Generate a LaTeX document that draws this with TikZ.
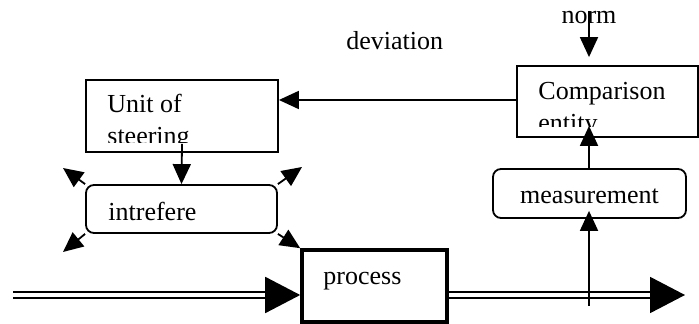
\documentclass[tikz,border=0pt]{standalone}
\usepackage{fontspec}
\setmainfont{Liberation Serif}
\usetikzlibrary{arrows.meta}

\begin{document}
\begin{tikzpicture}[
    x=0.5pt, y=-0.5pt,
    every node/.style={font=\fontsize{13pt}{16pt}\selectfont, inner sep=0pt},
    box/.style={draw, line width=0.9pt},
    round box/.style={draw, line width=0.9pt, rounded corners=4pt},
    arr/.style={line width=0.9pt, -{Triangle[length=10pt, width=9pt]}},
    flow/.style={line width=0.9pt, double, double distance=2.2pt,
        -{Triangle[length=17.5pt, width=18pt]}}
    ]
    \useasboundingbox (0,0) rectangle (699,324);
    % boxes
    \node[box, minimum width=96pt, minimum height=36pt] (steer) at (182,116) {};
    \node[box, minimum width=90.5pt, minimum height=35.5pt] (comp) at (607.5,101.5) {};
    \node[round box, minimum width=95.5pt, minimum height=24pt] (intr) at (181.5,209) {};
    \node[round box, minimum width=96.5pt, minimum height=24.5pt] (meas) at (589.5,193.5) {};
    \node[box, line width=1.8pt, minimum width=72.5pt, minimum height=36pt] (proc) at (374.5,286) {};
    % texts, the two upper ones cut off by their boxes
    \begin{scope}
        \clip (steer.north west) rectangle ([yshift=5pt]steer.south east);
        \node[anchor=base west, align=left] (steertxt) at (107,145) {Unit of\\steering};
    \end{scope}
    \begin{scope}
        \clip (comp.north west) rectangle ([yshift=5.5pt]comp.south east);
        \node[anchor=base west, align=left] (comptxt) at (538,132) {Comparison\\entity};
    \end{scope}
    \node[anchor=base west] (intrtxt) at (108,221) {intrefere};
    \node[anchor=base] (meastxt) at (589.5,204) {measurement};
    \node[anchor=base west] (proctxt) at (323,285) {process};
    \node[anchor=base west] (dev) at (346,50) {deviation};
    \node[anchor=base] (norm) at (589,24) {norm};
    % free ends
    \coordinate (in) at (13,295);
    \coordinate (out) at (685,295);
    \coordinate (probe) at (589,306);
    \coordinate (tl) at (63,168);
    \coordinate (tr) at (302,167);
    \coordinate (bl) at (63,252);
    % main flow
    \draw[flow] (in) -- (in -| proc.west);
    \draw[flow] (out -| proc.east) -- (out);
    % control loop
    \draw[arr] (probe) -- ([yshift=4pt]meas.south -| probe);
    \draw[arr] (meas.north -| probe) -- ([yshift=6pt]comp.south -| probe);
    \draw[arr, shorten >=4pt] (norm.north) -- (norm.north |- comp.north);
    \draw[arr] (comp.west |- 0,100) -- (steer.east |- 0,100);
    \draw[arr] ([yshift=4.5pt]steer.south) -- (intr.north);
    % interference
    \draw[arr] (intr.north west) -- (tl);
    \draw[arr] (intr.north east) -- (tr);
    \draw[arr] (intr.south west) -- (bl);
    \draw[arr] (intr.south east) -- (proc.north west);
\end{tikzpicture}
\end{document}
